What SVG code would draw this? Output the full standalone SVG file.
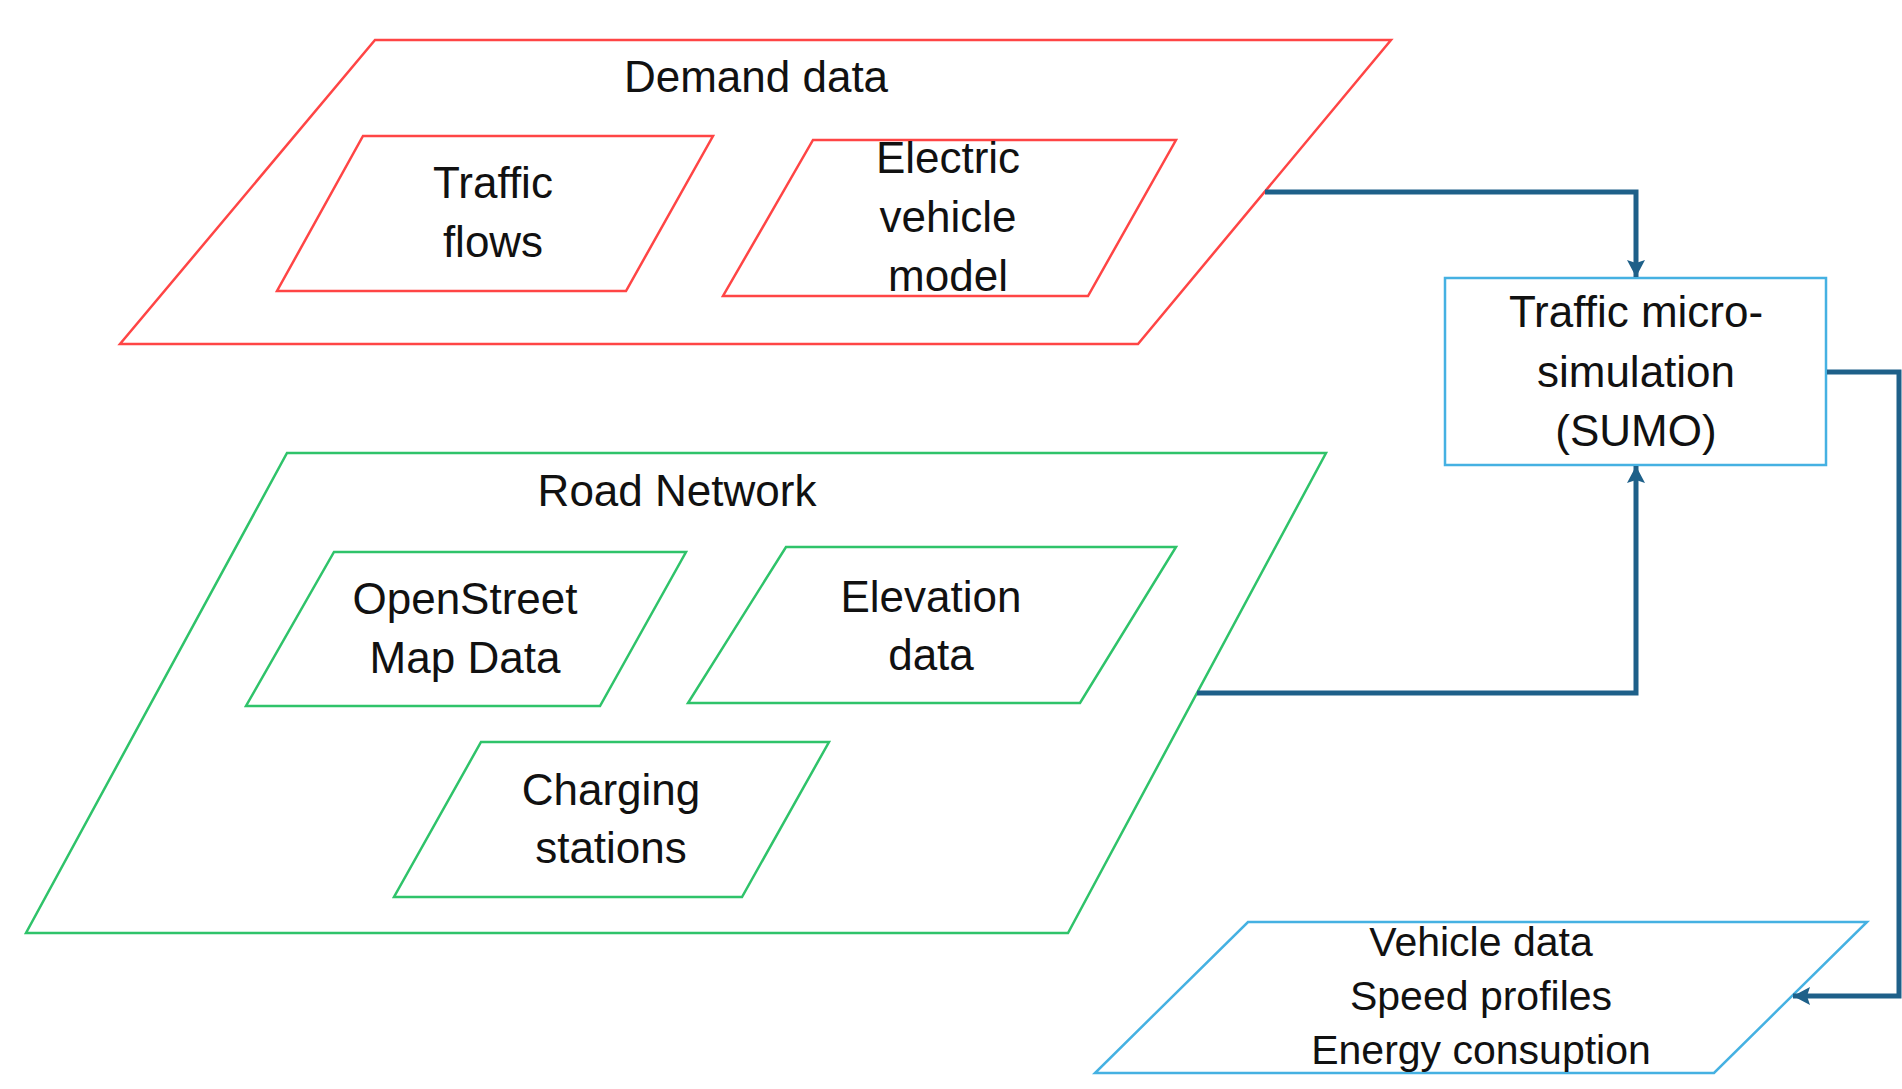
<svg xmlns="http://www.w3.org/2000/svg" width="1902" height="1089" viewBox="0 0 1902 1089">
<defs>
<style>
.red{fill:#fff;stroke:#FF4545;stroke-width:2.5}
.grn{fill:#fff;stroke:#2FC36A;stroke-width:2.5}
.blu{fill:#fff;stroke:#45B1E2;stroke-width:2.5}
.t{font-family:"Liberation Sans",Arial,sans-serif;font-size:44px;fill:#111;text-anchor:middle}
.s{font-size:41px}
.c{fill:none;stroke:#1E6089;stroke-width:5}
</style>
<marker id="ah" markerUnits="userSpaceOnUse" markerWidth="20" markerHeight="20" viewBox="0 0 20 20" refX="17" refY="10" orient="auto">
<path d="M0,1 L17,10 L0,19 L3,10 Z" fill="#1E6089"/>
</marker>
</defs>
<rect width="1902" height="1089" fill="#fff"/>
<g id="demand-data">
<polygon class="red" points="375,40 1391,40 1138,344 120,344"/>
<text class="t" x="756" y="92">Demand data</text>
</g>
<g id="traffic-flows">
<polygon class="red" points="363,136 713,136 626,291 277,291"/>
<text class="t" x="493" y="198">Traffic</text>
<text class="t" x="493" y="257">flows</text>
</g>
<g id="ev-model">
<polygon class="red" points="813,140 1176,140 1088,296 723,296"/>
<text class="t" x="948" y="173">Electric</text>
<text class="t" x="948" y="232">vehicle</text>
<text class="t" x="948" y="291">model</text>
</g>
<g id="road-network">
<polygon class="grn" points="287,453 1326,453 1068,933 26,933"/>
<text class="t" x="677" y="506">Road Network</text>
</g>
<g id="osm">
<polygon class="grn" points="334,552 686,552 600,706 246,706"/>
<text class="t" x="465" y="614">OpenStreet</text>
<text class="t" x="465" y="673">Map Data</text>
</g>
<g id="elevation">
<polygon class="grn" points="786,547 1176,547 1080,703 688,703"/>
<text class="t" x="931" y="612">Elevation</text>
<text class="t" x="931" y="670">data</text>
</g>
<g id="charging">
<polygon class="grn" points="481,742 829,742 742,897 394,897"/>
<text class="t" x="611" y="805">Charging</text>
<text class="t" x="611" y="863">stations</text>
</g>
<g id="sumo">
<rect class="blu" x="1445" y="278" width="381" height="187"/>
<text class="t" x="1636" y="327">Traffic micro-</text>
<text class="t" x="1636" y="387">simulation</text>
<text class="t" x="1636" y="446">(SUMO)</text>
</g>
<g id="vehicle-data">
<polygon class="blu" points="1248,922 1867,922 1714,1073 1095,1073"/>
<text class="t s" x="1481" y="956">Vehicle data</text>
<text class="t s" x="1481" y="1010">Speed profiles</text>
<text class="t s" x="1481" y="1064">Energy consuption</text>
</g>
<g id="connectors">
<path class="c" d="M1265,192 H1636 V277" marker-end="url(#ah)"/>
<path class="c" d="M1197,693 H1636 V466" marker-end="url(#ah)"/>
<path class="c" d="M1827,372 H1899 V996 H1793" marker-end="url(#ah)"/>
</g>
</svg>
